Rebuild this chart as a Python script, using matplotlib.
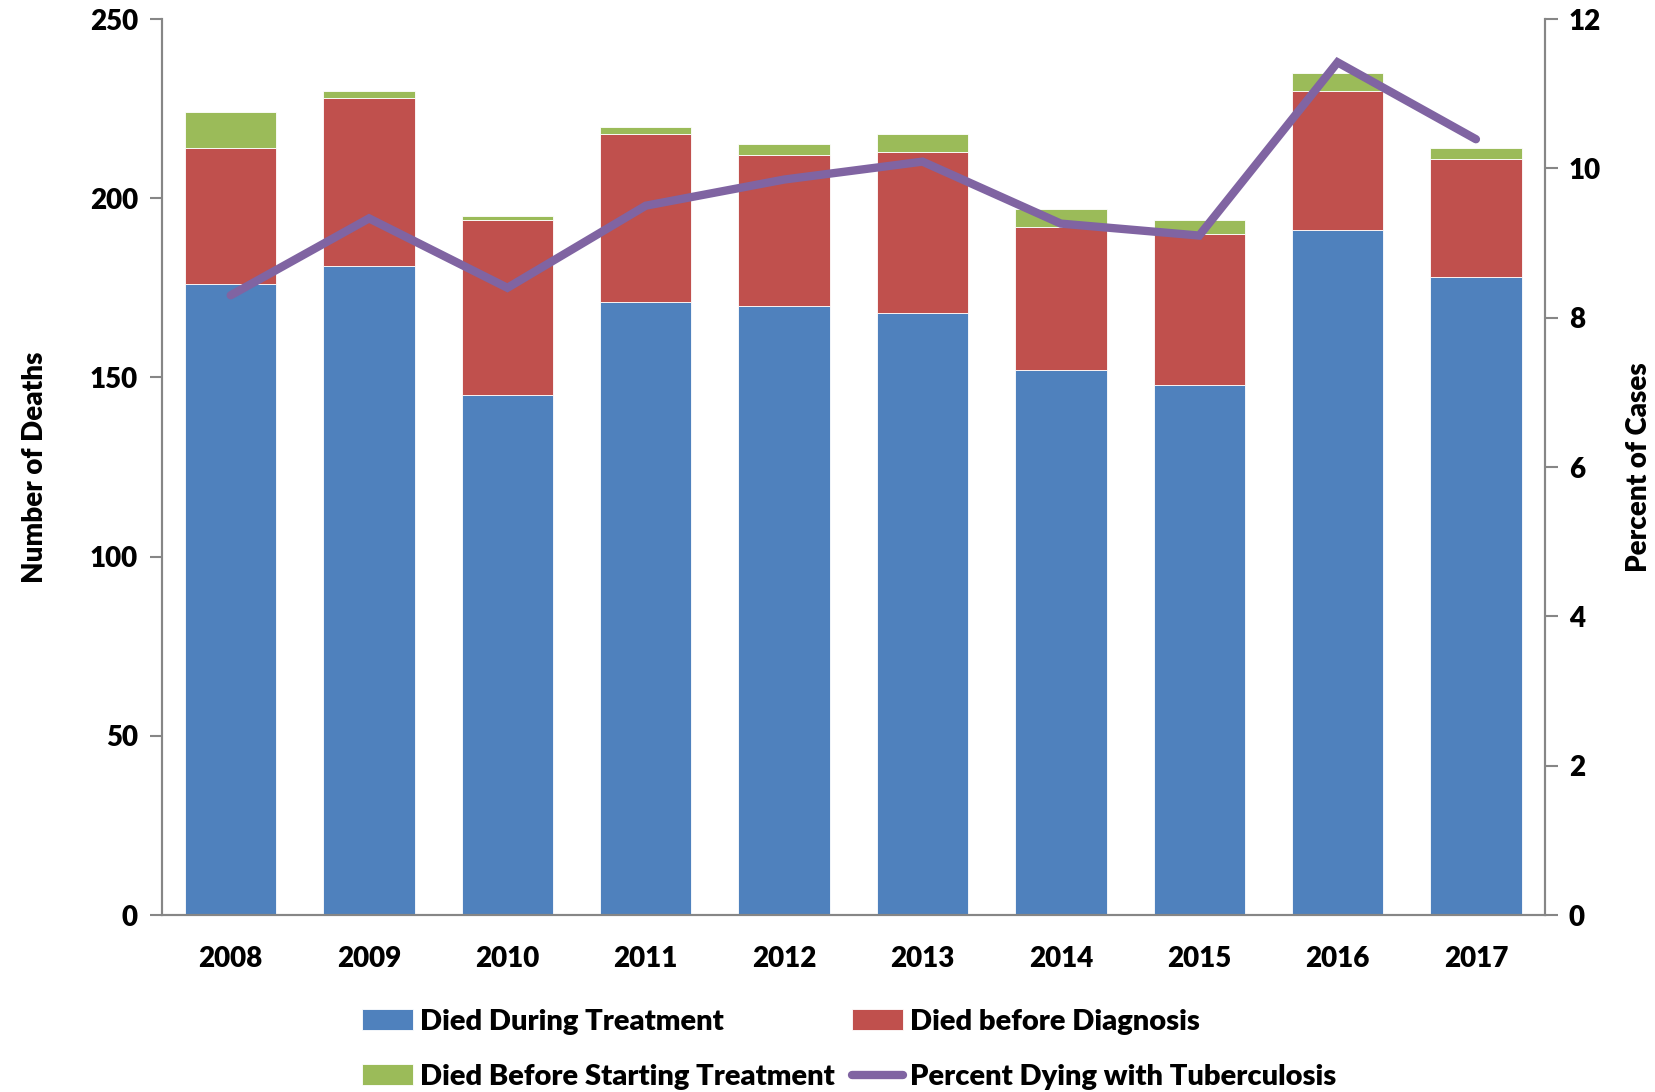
import matplotlib.pyplot as plt
from matplotlib.lines import Line2D
import numpy as np

years = ['2008', '2009', '2010', '2011', '2012', '2013', '2014', '2015', '2016', '2017']
during_treatment = [176, 181, 145, 171, 170, 168, 152, 148, 191, 178]
before_diagnosis = [38, 47, 49, 47, 42, 45, 40, 42, 39, 33]
before_starting = [10, 2, 1, 2, 3, 5, 5, 4, 5, 3]
pct_dying = [8.30, 9.33, 8.40, 9.50, 9.85, 10.09, 9.26, 9.10, 11.42, 10.39]

plt.rcParams['font.family'] = ['Lato', 'DejaVu Sans']
plt.rcParams['font.weight'] = 'heavy'
plt.rcParams['axes.labelweight'] = 'heavy'

blue = '#4F81BD'
red = '#C0504D'
green = '#9BBB59'
purple = '#8064A2'
grey = '#868686'

fig = plt.figure(figsize=(16.55, 10.92), dpi=100)
ax1 = fig.add_axes([0.0976, 0.162, 0.836, 0.8206])
ax2 = ax1.twinx()

x = np.arange(len(years))
w = 0.66
b1 = ax1.bar(x, during_treatment, w, color=blue, edgecolor='white', linewidth=0.6,
             label='Died During Treatment')
bottom2 = np.array(during_treatment)
b2 = ax1.bar(x, before_diagnosis, w, bottom=bottom2, color=red, edgecolor='white',
             linewidth=0.6, label='Died before Diagnosis')
bottom3 = bottom2 + np.array(before_diagnosis)
b3 = ax1.bar(x, before_starting, w, bottom=bottom3, color=green, edgecolor='white',
             linewidth=0.6, label='Died Before Starting Treatment')

ln, = ax2.plot(x, pct_dying, color=purple, linewidth=6, solid_capstyle='round',
               solid_joinstyle='miter', label='Percent Dying with Tuberculosis')

ax1.set_xlim(-0.5, len(years) - 0.5)
ax1.set_ylim(0, 250)
ax2.set_ylim(0, 12)
ax1.set_yticks(range(0, 251, 50))
ax2.set_yticks(range(0, 13, 2))
ax1.set_xticks(x)
ax1.set_xticklabels(years)

for a in (ax1, ax2):
    for s in a.spines.values():
        s.set_color(grey)
        s.set_linewidth(1.5)
    a.spines['top'].set_visible(False)
ax1.tick_params(axis='y', length=9, width=1.5, color=grey, labelsize=20, pad=8)
ax2.tick_params(axis='y', length=9, width=1.5, color=grey, labelsize=20, pad=8)
ax1.tick_params(axis='x', length=0, labelsize=20, pad=22)

ax1.set_ylabel('Number of Deaths', fontsize=20, fontweight='heavy', labelpad=30)
ax2.set_ylabel('Percent of Cases', fontsize=20, fontweight='heavy', labelpad=18)

handles = [b1, b3, b2, Line2D([0], [0], color=purple, linewidth=6, solid_capstyle='round')]
labels = ['Died During Treatment', 'Died Before Starting Treatment',
          'Died before Diagnosis', 'Percent Dying with Tuberculosis']
fig.legend(handles, labels, loc='lower center', bbox_to_anchor=(0.513, -0.022), ncol=2,
           frameon=False, fontsize=21, handlelength=1.75, handletextpad=0.25,
           columnspacing=0.57, labelspacing=1.0)

fig.savefig('out.png', dpi=100)
